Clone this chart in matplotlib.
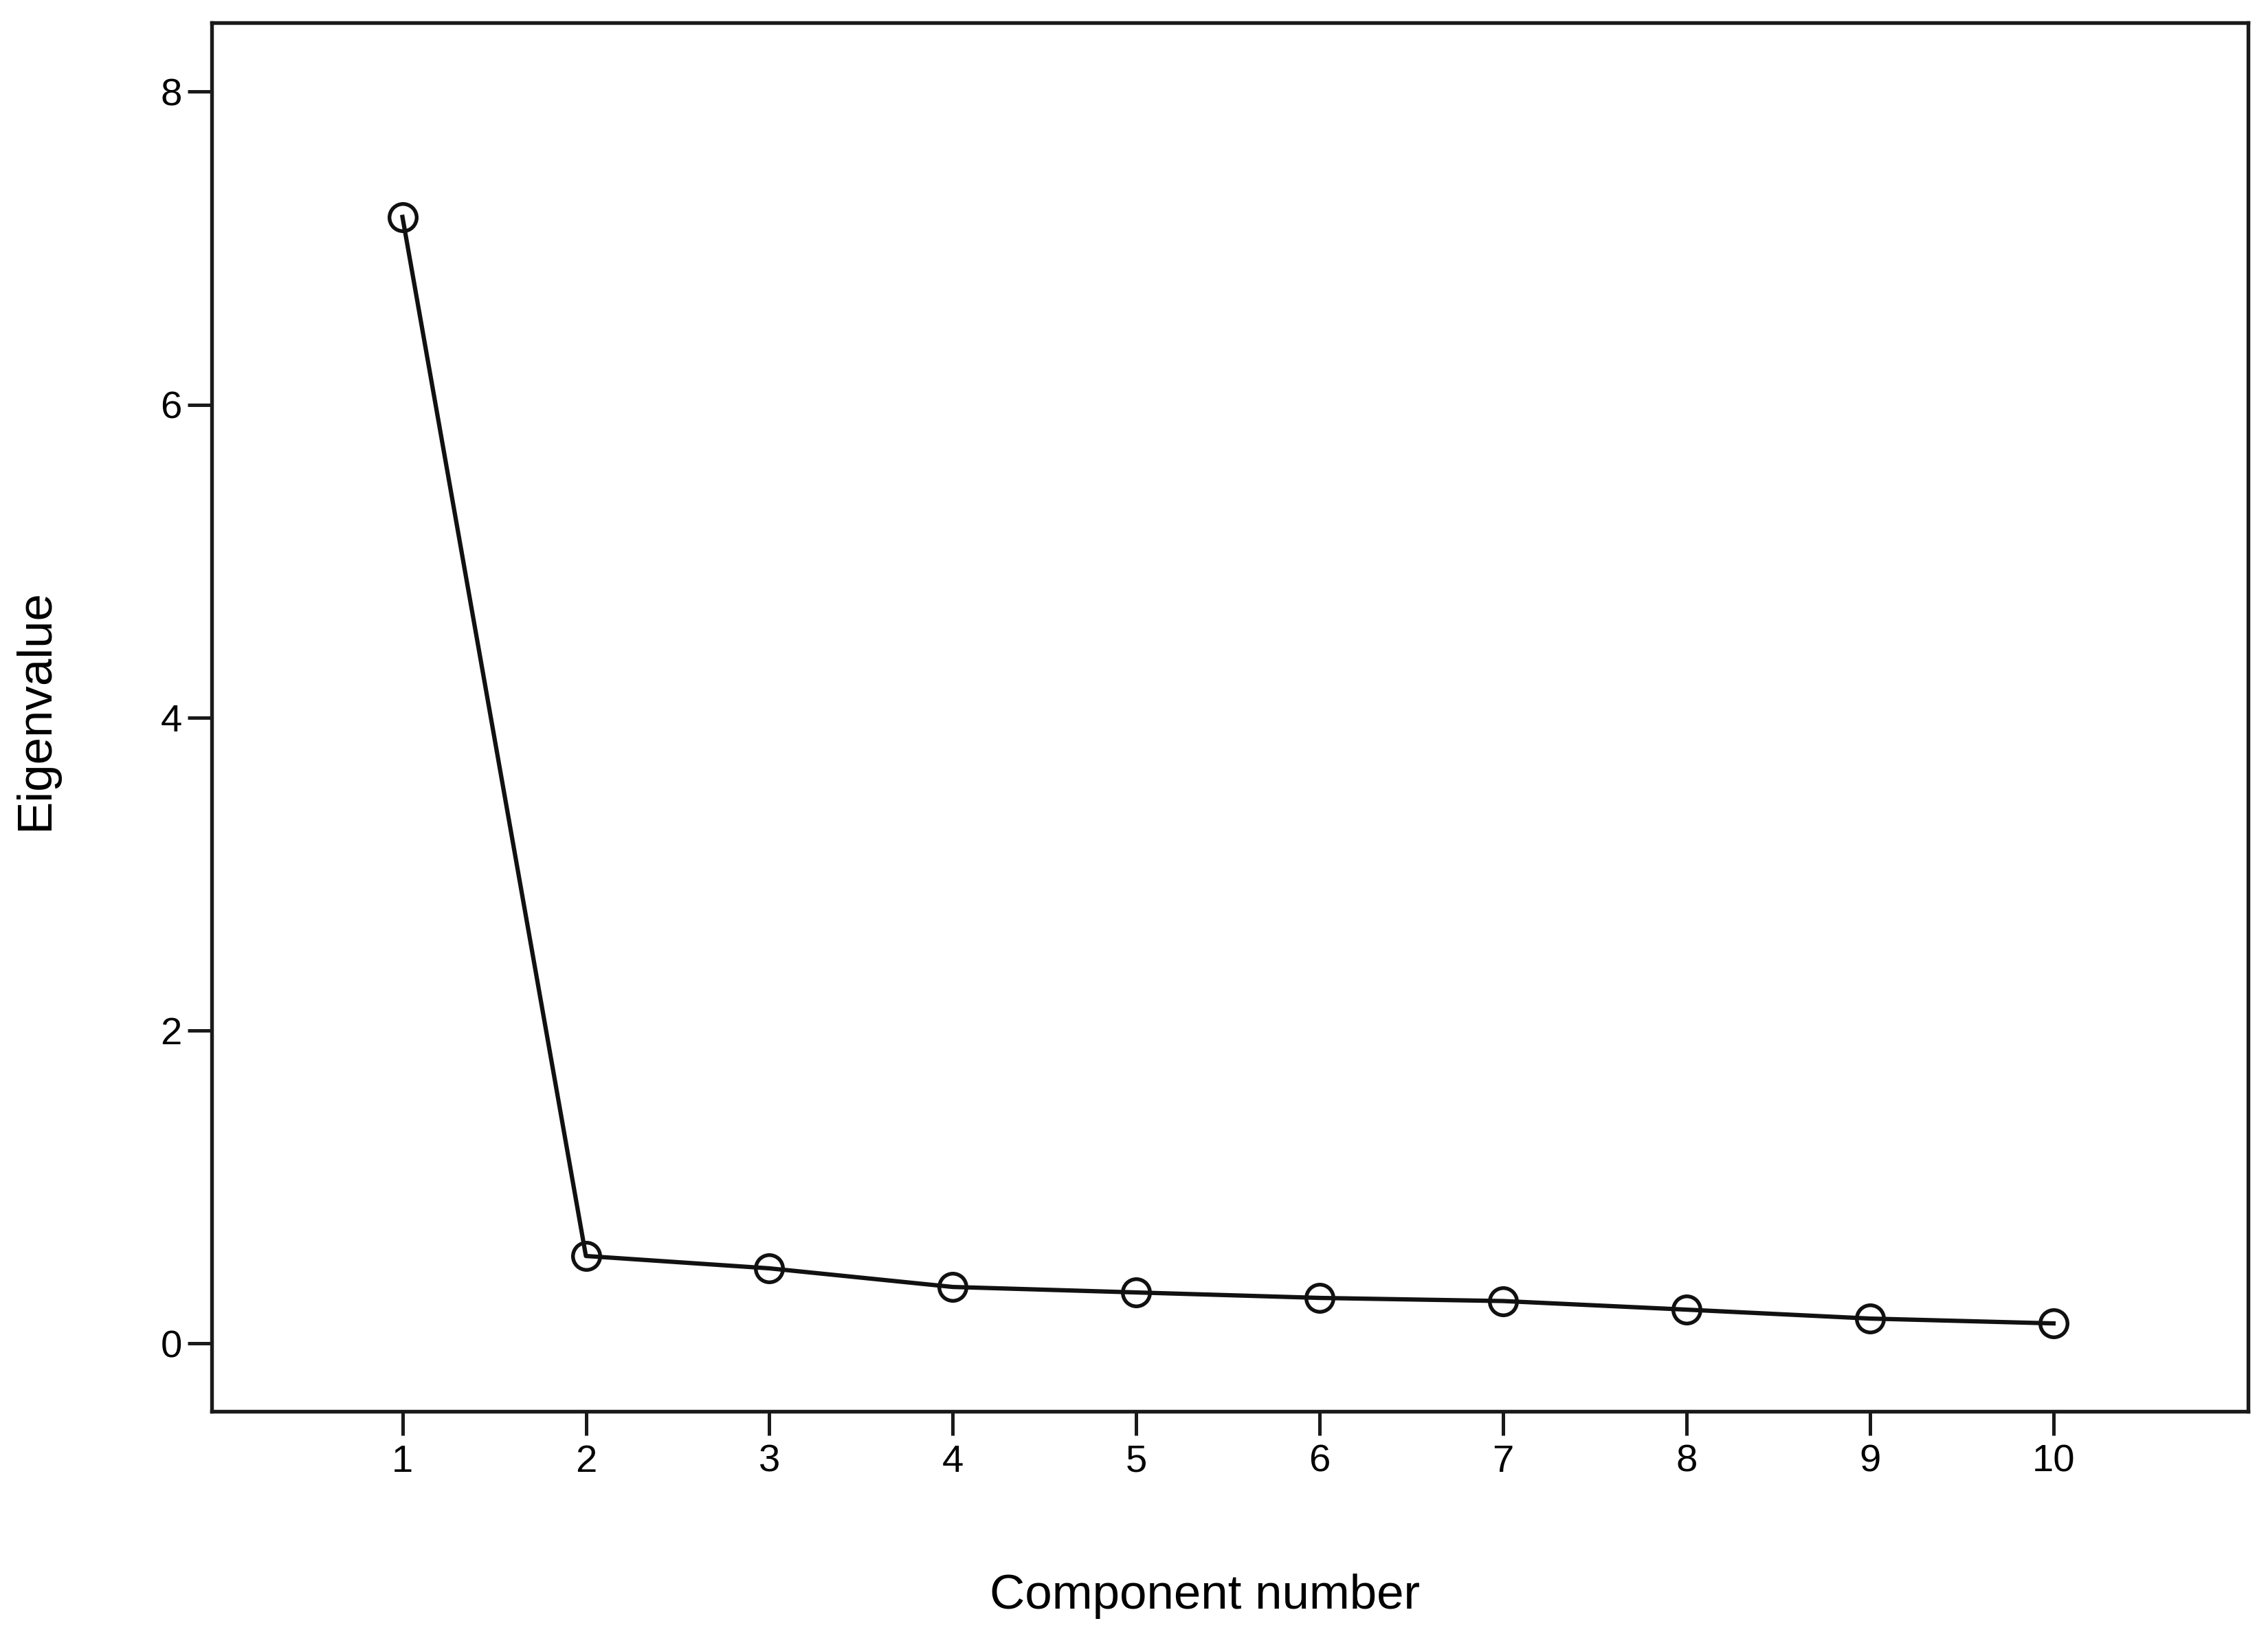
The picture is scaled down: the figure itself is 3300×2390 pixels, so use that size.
import matplotlib
matplotlib.use("Agg")
import matplotlib.pyplot as plt

plt.rcParams['font.family'] = ['Liberation Sans', 'DejaVu Sans']

# scree plot data
components = [1, 2, 3, 4, 5, 6, 7, 8, 9, 10]
eigenvalues = [7.20, 0.558, 0.479, 0.36, 0.325, 0.29, 0.27, 0.215, 0.158, 0.127]
y_ticks = [0, 2, 4, 6, 8]

fig = plt.figure(figsize=(11.003, 7.967), dpi=300)
ax = fig.add_axes([0.0933, 0.141, 0.8976, 0.845])

ax.plot(components, eigenvalues, color='#111111', lw=1.5,
        marker='o', ms=9.5, mfc='none', mec='#111111', mew=1.3)

ax.set_xlim(-0.04, 11.06)
ax.set_ylim(-0.435, 8.44)
ax.set_xticks(components)
ax.set_yticks(y_ticks)

for s in ax.spines.values():
    s.set_linewidth(1.3)
    s.set_color('#1a1a1a')

ax.tick_params(axis='both', direction='out', length=8.4, width=1.2,
               color='#1a1a1a', labelsize=13.5)
ax.tick_params(axis='x', pad=3)
ax.tick_params(axis='y', pad=2)

fig.text(0.531, 0.0285, 'Component number', fontsize=17, ha='center', va='center')
fig.text(0.0158, 0.568, 'Eigenvalue', fontsize=17, ha='center', va='center',
         rotation=90)

fig.savefig('out.png', dpi=300)
